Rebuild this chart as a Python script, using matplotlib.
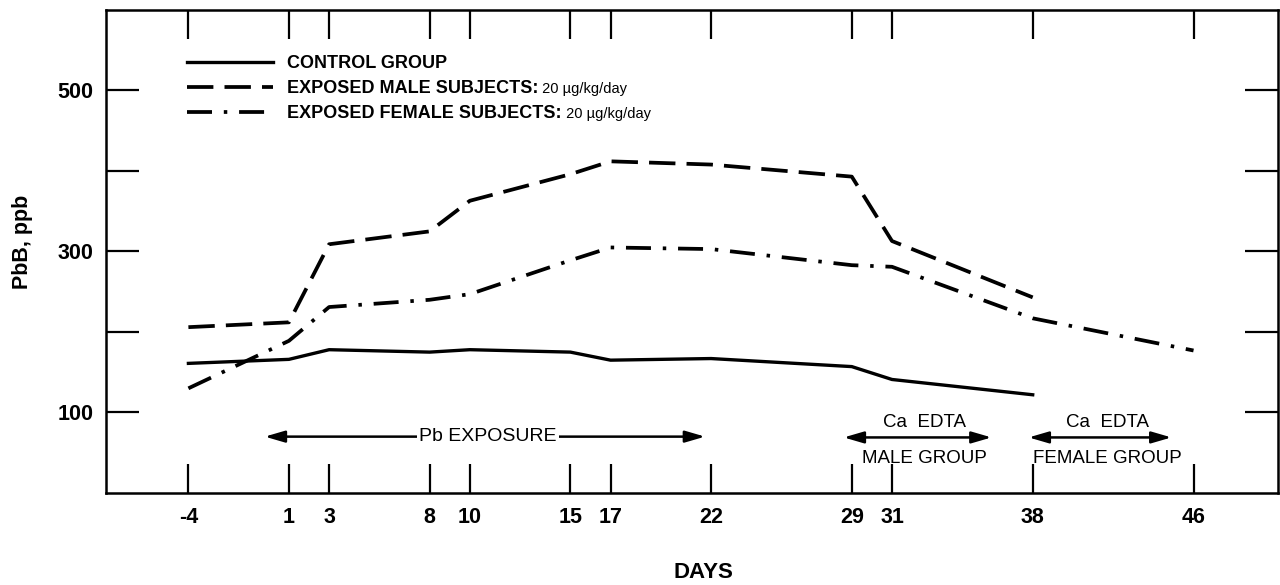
import matplotlib
matplotlib.use("Agg")
import matplotlib.pyplot as plt

plt.rcParams['font.family'] = ['Liberation Sans', 'DejaVu Sans']
plt.rcParams['lines.scale_dashes'] = False

# blood lead (ppb) by study day
days = [-4, 1, 3, 8, 10, 15, 17, 22, 29, 31, 38]
control = [161, 166, 178, 175, 178, 175, 165, 167, 157, 141, 122]
male = [206, 212, 309, 325, 363, 396, 412, 408, 393, 313, 243]
days_female = [-4, 1, 3, 8, 10, 15, 17, 22, 29, 31, 38, 46]
female = [130, 189, 231, 240, 247, 289, 305, 303, 283, 281, 217, 177]

xticks = [-4, 1, 3, 8, 10, 15, 17, 22, 29, 31, 38, 46]
yticks = [100, 200, 300, 400, 500]
ylabels = ['100', '', '300', '', '500']

# treatment periods (start day, end day)
pb_period = (-0.2, 21.7)
edta_male = (28.6, 35.95)
edta_female = (37.8, 44.9)

fig = plt.figure(figsize=(12.8, 5.85), dpi=100)
ax = fig.add_axes([0.0828, 0.1573, 0.9156, 0.8256])

ax.plot(days, control, color='k', lw=2.4, label='CONTROL GROUP')
ax.plot(days, male, color='k', lw=2.7, ls=(0, (19, 8)),
        label='EXPOSED MALE SUBJECTS:')
ax.plot(days_female, female, color='k', lw=2.7, ls=(0, (18, 8.5, 2.5, 8.5)),
        label='EXPOSED FEMALE SUBJECTS:')

ax.set_xlim(-8.1, 50.2)
ax.set_ylim(0, 600)
ax.set_xticks(xticks)
ax.set_xticklabels([str(d) for d in xticks])
ax.set_yticks(yticks)
ax.set_yticklabels(ylabels)

ax.tick_params(axis='x', direction='in', length=21, width=1.6, top=True,
               pad=10, labelsize=15.5)
ax.tick_params(axis='y', direction='in', length=24, width=1.6, right=True,
               pad=9, labelsize=15.5)
for lab in ax.get_xticklabels() + ax.get_yticklabels():
    lab.set_fontweight('bold')
for sp in ax.spines.values():
    sp.set_linewidth(1.8)

ax.set_ylabel('PbB, ppb', fontsize=15.5, fontweight='bold')
ax.yaxis.set_label_coords(-0.062, 0.52)
ax.set_xlabel('DAYS', fontsize=16, fontweight='bold')
ax.xaxis.set_label_coords(0.51, -0.143)

leg = ax.legend(loc='upper left', bbox_to_anchor=(0.055, 0.94), frameon=False,
                handlelength=4.8, handletextpad=0.75, labelspacing=0.45,
                prop={'size': 13, 'weight': 'bold'})
fig.canvas.draw()
for txt in leg.get_texts()[1:]:
    ax.annotate(' 20 \u00b5g/kg/day', xy=(1, 0.5), xycoords=txt,
                va='center', ha='left', fontsize=10.5, zorder=6)

arrow = dict(arrowstyle='<|-|>,head_length=1.2,head_width=0.35', lw=1.8,
             color='k', shrinkA=0, shrinkB=0, mutation_scale=10)
ax.annotate('', xy=(pb_period[0], 70), xytext=(pb_period[1], 70),
            arrowprops=arrow)
ax.text(10.9, 70, 'Pb EXPOSURE', fontsize=14, ha='center', va='center',
        bbox=dict(fc='white', ec='none', pad=1.5))

for (x0, x1), group in [(edta_male, 'MALE GROUP'),
                        (edta_female, 'FEMALE GROUP')]:
    ax.annotate('', xy=(x0, 69), xytext=(x1, 69), arrowprops=arrow)
    xc = (x0 + x1) / 2 + 0.35
    ax.text(xc, 88, 'Ca  EDTA', fontsize=13.5, ha='center', va='center')
    ax.text(xc, 43, group, fontsize=13.5, ha='center', va='center')

fig.savefig('out.png', dpi=100)
